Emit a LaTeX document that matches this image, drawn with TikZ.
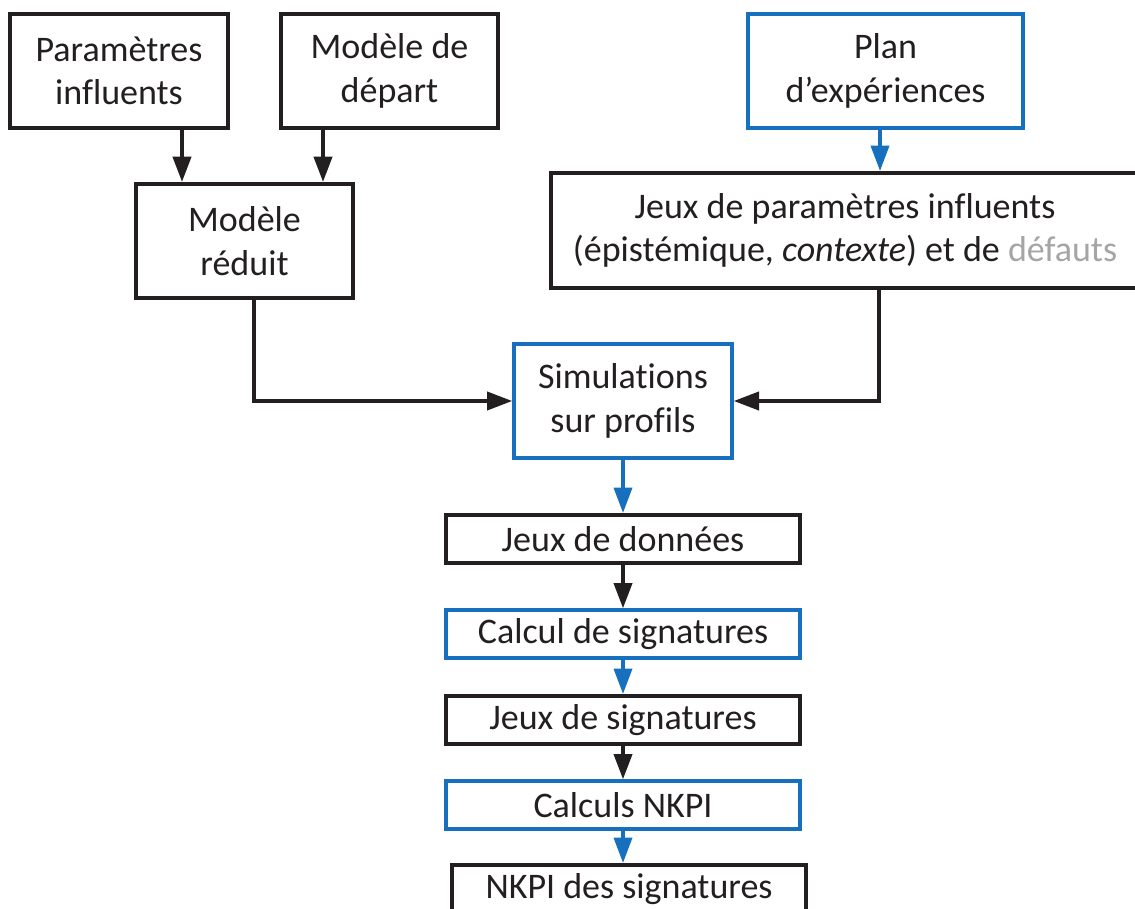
\documentclass[tikz,border=0pt]{standalone}
\usepackage{fontspec}
\setmainfont{Carlito}[Ligatures=NoCommon]
\usetikzlibrary{arrows.meta}
\definecolor{bl}{RGB}{22,112,189}
\definecolor{ink}{RGB}{35,31,32}
\definecolor{greytxt}{RGB}{165,165,165}
\begin{document}
\begin{tikzpicture}[x=0.75pt,y=-0.75pt,
  wh/.style 2 args={minimum width=#1*0.75pt, minimum height=#2*0.75pt},
  txt/.style={font=\fontsize{27pt}{32.5pt}\selectfont, text=ink, align=center, inner sep=0pt},
  bbox/.style={txt, draw=ink, line width=3pt, fill=white},
  ubox/.style={txt, draw=bl, line width=2.5pt, fill=white},
  karr/.style={draw=ink, line width=3pt, -{Triangle[length=19pt,width=13.5pt]}},
  barr/.style={draw=bl, line width=2.6pt, -{Triangle[length=19pt,width=13.5pt]}}]
\useasboundingbox (0,0) rectangle (1135,909);
\clip (0,0) rectangle (1135,909);
\fill[white] (0,0) rectangle (1135,909);

\node[bbox, wh={218}{114}] (A) at (119,71) {Paramètres\\influents};
\node[bbox, wh={217}{114}] (B) at (389.5,71) {Modèle de\\départ};
\node[bbox, wh={217}{114}] (C) at (244.5,241) {Modèle\\réduit};
\node[ubox, wh={275}{114}] (D) at (885.5,71) {Plan\\d’expériences};
\node[bbox, wh={588}{115}] (E) at (845,230.5) {Jeux de paramètres influents\\(épistémique, \textit{contexte}) et de \textcolor{greytxt}{défauts}};
\node[ubox, wh={218}{114}] (S) at (623,401) {Simulations\\sur profils};
\node[bbox, wh={354}{48}] (J1) at (623,539) {Jeux de données};
\node[ubox, wh={354}{48}] (C1) at (623,634) {Calcul de signatures};
\node[bbox, wh={354}{48}] (J2) at (623,720) {Jeux de signatures};
\node[ubox, wh={354}{48}] (C2) at (623,805) {Calculs NKPI};
\node[bbox, wh={354}{48}] (N) at (629,889) {NKPI des signatures};

\coordinate (xa) at (182,0);
\coordinate (xb) at (323,0);
\coordinate (xc) at (254,0);
\coordinate (xd) at (880,0);
\coordinate (xe) at (879,0);
\coordinate (xm) at (623,0);

\draw[karr] (xa |- A.south) -- (xa |- C.north);
\draw[karr] (xb |- B.south) -- (xb |- C.north);
\draw[barr] (xd |- D.south) -- (xd |- E.north);
\draw[karr] (xc |- C.south) |- (S.west);
\draw[karr] (xe |- E.south) |- (S.east);
\draw[barr] (S.south) -- (J1.north);
\draw[karr] (J1.south) -- (C1.north);
\draw[barr] (C1.south) -- (J2.north);
\draw[karr] (J2.south) -- (C2.north);
\draw[barr] (C2.south) -- (xm |- N.north);
\end{tikzpicture}
\end{document}
